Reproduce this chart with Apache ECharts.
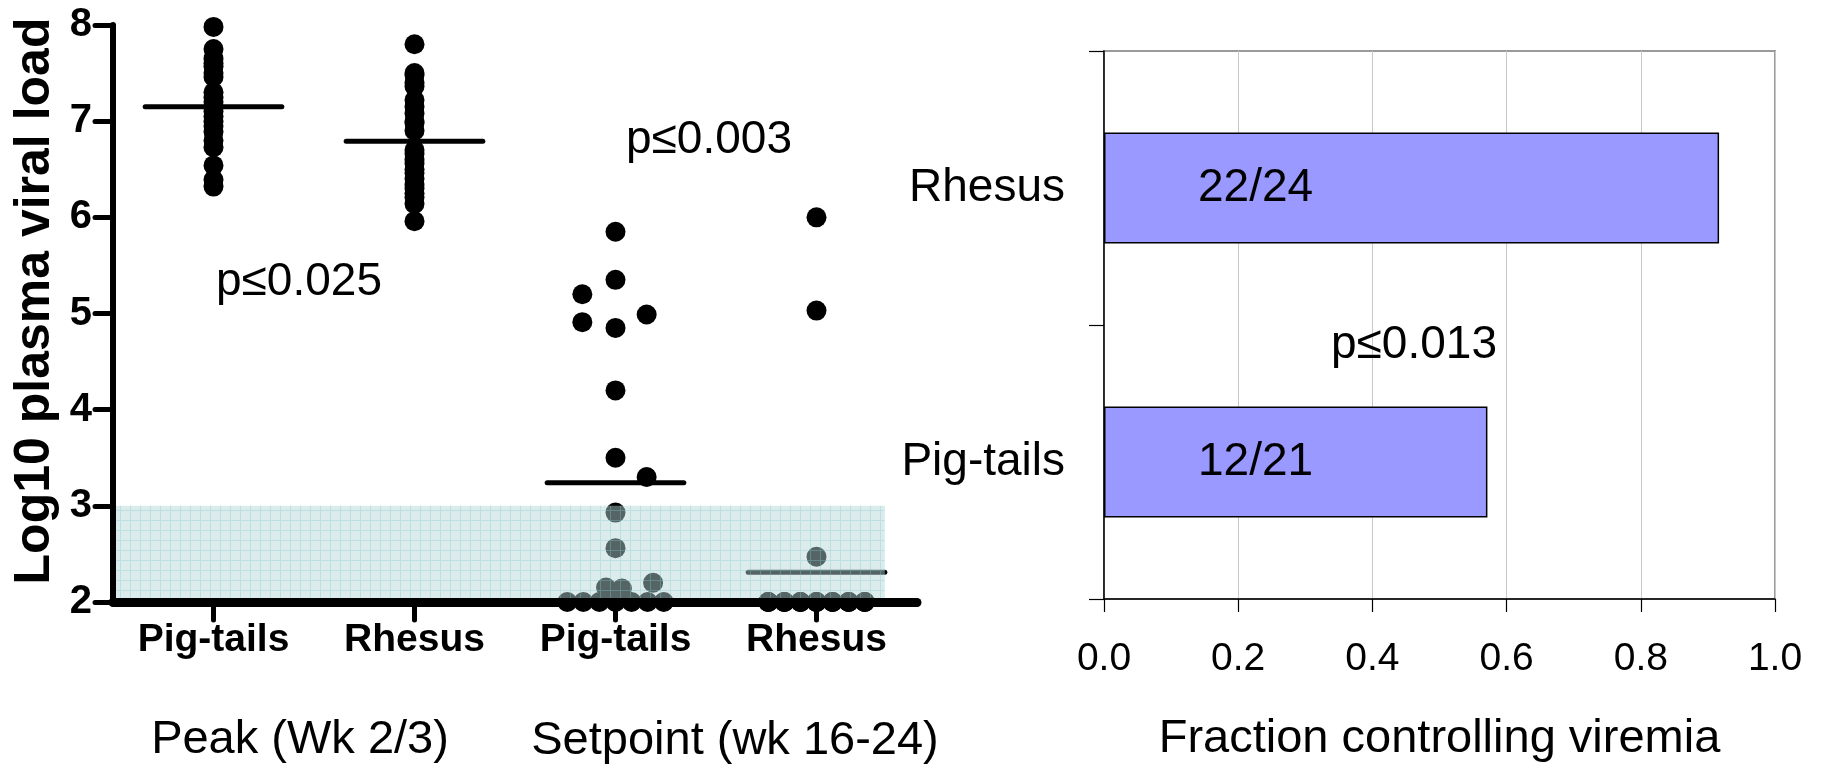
<!DOCTYPE html>
<html><head><meta charset="utf-8">
<script src="https://cdn.jsdelivr.net/npm/echarts@6/dist/echarts.min.js"></script>
<style>html,body{margin:0;padding:0;background:#fff}#c{width:1823px;height:768px}</style>
</head><body><div id="c"></div>
<script>
// ---- data ----
const groupLabels = ['Pig-tails', 'Rhesus', 'Pig-tails', 'Rhesus'];
const yTicks = [2, 3, 4, 5, 6, 7, 8];
const peakPigtails = [7.98, 7.75, 7.65, 7.6, 7.57, 7.5, 7.46, 7.3, 7.25, 7.2, 7.15, 7.1, 7.05, 7.0, 6.95, 6.89, 6.8, 6.73, 6.54, 6.39, 6.32];
const peakRhesus = [7.8, 7.5, 7.48, 7.4, 7.36, 7.22, 7.15, 7.08, 7.0, 6.98, 6.9, 6.7, 6.66, 6.6, 6.56, 6.5, 6.46, 6.4, 6.34, 6.3, 6.25, 6.21, 6.14, 5.96];
const setPigtails = [5.85, 5.35, 5.2, 4.99, 4.91, 4.85, 4.2, 3.5, 3.3, 2.93, 2.56, 2.2, 2.15, 2.14, 2, 2, 2, 2, 2, 2, 2];
const setPigtailsJitter = [0, 0, -0.165, 0.155, -0.165, 0, 0, 0, 0.155, 0, 0, 0.187, -0.047, 0.032, -0.24, -0.16, -0.08, 0, 0.08, 0.16, 0.24];
const setRhesus = [6.0, 5.03, 2.47, 2, 2, 2, 2, 2, 2, 2, 2, 2, 2, 2, 2, 2, 2, 2, 2, 2, 2, 2, 2, 2];
const setRhesusJitter = [0, 0, 0, -0.24, -0.24, -0.24, -0.16, -0.16, -0.16, -0.08, -0.08, -0.08, 0, 0, 0, 0.08, 0.08, 0.08, 0.16, 0.16, 0.16, 0.24, 0.24, 0.24];
const groupMeans = [7.15, 6.79, 3.24, 2.31];
const detectionBand = [2, 3];           // shaded "controlled" band (log10)
const barCategories = ['Pig-tails', 'Rhesus'];
const controlled = [12, 22];
const totals = [21, 24];
const pValues = ['p\u22640.025', 'p\u22640.003', 'p\u22640.013'];

// ---- helpers ----
const FONT = '"Liberation Sans", Arial, Helvetica, sans-serif';
function pts(vals, xc, jit) { return vals.map((v, i) => [xc + (jit ? jit[i] : 0), v]); }

// shading pattern
const pc = document.createElement('canvas');
pc.width = 10; pc.height = 10;
const g = pc.getContext('2d');
g.fillStyle = 'rgba(180,215,216,0.47)';
g.fillRect(0, 0, 10, 10);
g.fillStyle = 'rgba(130,200,205,0.35)';
g.fillRect(0, 0, 10, 1);
g.fillRect(0, 1, 1, 9);

const chart = echarts.init(document.getElementById('c'), null, { renderer: 'canvas' });

const meanLines = groupMeans.map((m, i) => ({
  type: 'line', xAxisIndex: 0, yAxisIndex: 0, z: 2, silent: true,
  symbol: 'none', data: [[i + 1 - 0.34, m], [i + 1 + 0.34, m]],
  lineStyle: { color: '#000', width: 5, cap: 'round' }
}));

const dotStyle = { type: 'scatter', xAxisIndex: 0, yAxisIndex: 0, symbol: 'circle', symbolSize: 20, clip: false, z: 2,
  itemStyle: { color: '#000', opacity: 1 } };

const option = {
  animation: false,
  backgroundColor: '#fff',
  grid: [
    { left: 113, right: 1823 - 917, top: 25, bottom: 768 - 602, containLabel: false },
    { left: 1104, right: 1823 - 1775, top: 51, bottom: 768 - 606, show: true, borderColor: '#9a9a9a', borderWidth: 2 }
  ],
  xAxis: [
    { type: 'value', gridIndex: 0, min: 0.5, max: 4.5, z: 10,
      axisLine: { show: true, lineStyle: { color: '#000', width: 9, cap: 'round' } },
      axisTick: { show: true, customValues: [1, 2, 3, 4], length: 18, lineStyle: { color: '#000', width: 5, cap: 'round' } },
      axisLabel: { show: true, customValues: [1, 2, 3, 4], formatter: v => groupLabels[Math.round(v) - 1], margin: 19,
        fontFamily: FONT, fontSize: 39, fontWeight: 'bold', color: '#000' },
      splitLine: { show: false } },
    { type: 'value', gridIndex: 1, min: 0, max: 1, interval: 0.2,
      axisLine: { show: true, onZero: false, lineStyle: { color: '#000', width: 1.5 } },
      axisTick: { show: true, length: 13, lineStyle: { color: '#000', width: 1.2 } },
      axisLabel: { margin: 41, fontFamily: FONT, fontSize: 39, color: '#000', formatter: v => v.toFixed(1) },
      splitLine: { show: true, lineStyle: { color: '#c8c8c8', width: 1 } },
      name: 'Fraction controlling viremia', nameLocation: 'middle', nameGap: 117,
      nameTextStyle: { fontFamily: FONT, fontSize: 47, color: '#000' } }
  ],
  yAxis: [
    { type: 'value', gridIndex: 0, min: yTicks[0], max: yTicks[yTicks.length - 1], interval: 1, z: 10,
      axisLine: { show: true, lineStyle: { color: '#000', width: 6 } },
      axisTick: { show: true, length: 18, lineStyle: { color: '#000', width: 5, cap: 'round' } },
      axisLabel: { margin: 21, fontFamily: FONT, fontSize: 40, fontWeight: 'bold', color: '#000' },
      splitLine: { show: false } },
    { type: 'category', gridIndex: 1, data: barCategories,
      axisLine: { show: true, lineStyle: { color: '#000', width: 1.5 } },
      axisTick: { show: true, length: 15, lineStyle: { color: '#000', width: 1.2 } },
      axisLabel: { margin: 39, fontFamily: FONT, fontSize: 46, color: '#000' },
      splitLine: { show: false } }
  ],
  series: [
    Object.assign({}, dotStyle, { data: pts(peakPigtails, 1) }),
    Object.assign({}, dotStyle, { data: pts(peakRhesus, 2) }),
    Object.assign({}, dotStyle, { data: pts(setPigtails, 3, setPigtailsJitter) }),
    Object.assign({}, dotStyle, { data: pts(setRhesus, 4, setRhesusJitter) }),
    ...meanLines,
    { type: 'custom', xAxisIndex: 0, yAxisIndex: 0, z: 5, silent: true, clip: false,
      data: [[0.5, 4.34, detectionBand[0], detectionBand[1]]],
      renderItem: (params, api) => {
        const a = api.coord([api.value(0), api.value(3)]);
        const b = api.coord([api.value(1), api.value(2)]);
        return { type: 'rect', shape: { x: a[0], y: a[1], width: b[0] - a[0], height: b[1] - a[1] },
          style: { fill: { image: pc, repeat: 'repeat' } } };
      } },
    { type: 'bar', xAxisIndex: 1, yAxisIndex: 1, barWidth: 111,
      data: controlled.map((c, i) => c / totals[i]),
      itemStyle: { color: '#9999ff', borderColor: '#000', borderWidth: 1.5 },
      label: { show: true, position: [94, '50%'], align: 'left', verticalAlign: 'middle',
        fontFamily: FONT, fontSize: 46, color: '#000',
        formatter: p => controlled[p.dataIndex] + '/' + totals[p.dataIndex] } }
  ],
  graphic: [
    { type: 'text', x: 35, y: 301, rotation: Math.PI / 2, z: 20,
      style: { text: 'Log10 plasma viral load', fontFamily: FONT, fontSize: 50, fontWeight: 'bold', fill: '#000', align: 'center', verticalAlign: 'middle' } },
    { type: 'text', x: 299, y: 282, z: 20,
      style: { text: pValues[0], fontFamily: FONT, fontSize: 46, fill: '#000', align: 'center', verticalAlign: 'middle' } },
    { type: 'text', x: 709, y: 140, z: 20,
      style: { text: pValues[1], fontFamily: FONT, fontSize: 46, fill: '#000', align: 'center', verticalAlign: 'middle' } },
    { type: 'text', x: 1414, y: 345, z: 20,
      style: { text: pValues[2], fontFamily: FONT, fontSize: 46, fill: '#000', align: 'center', verticalAlign: 'middle' } },
    { type: 'text', x: 300, y: 740, z: 20,
      style: { text: 'Peak (Wk 2/3)', fontFamily: FONT, fontSize: 47, fill: '#000', align: 'center', verticalAlign: 'middle' } },
    { type: 'text', x: 735, y: 741, z: 20,
      style: { text: 'Setpoint (wk 16-24)', fontFamily: FONT, fontSize: 47, fill: '#000', align: 'center', verticalAlign: 'middle' } }
  ]
};
chart.setOption(option);
</script></body></html>
